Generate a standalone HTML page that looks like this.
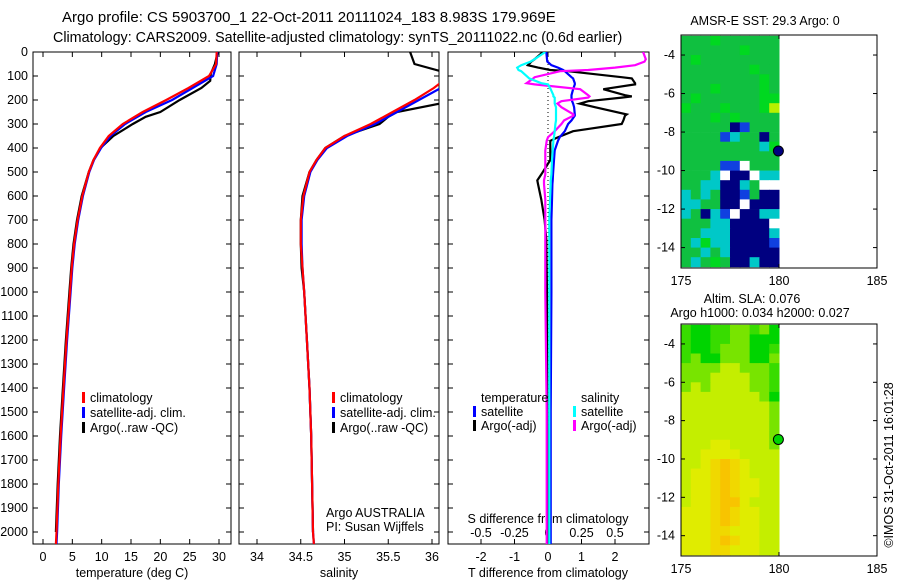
<!DOCTYPE html>
<html><head><meta charset="utf-8">
<style>
body{margin:0;background:#fff;}
svg{display:block;font-family:"Liberation Sans",sans-serif;}
text{font-size:12.5px;fill:#000;}
</style></head>
<body>
<svg id="fig" width="900" height="580" viewBox="0 0 900 580" xmlns="http://www.w3.org/2000/svg">
<text x="62" y="22" style="font-size:15px">Argo profile: CS 5903700_1 22-Oct-2011 20111024_183 8.983S 179.969E</text>
<text x="53" y="42" style="font-size:14.3px">Climatology: CARS2009. Satellite-adjusted climatology: synTS_20111022.nc (0.6d earlier)</text>
<text x="765" y="25" text-anchor="middle">AMSR-E SST: 29.3 Argo: 0</text>
<text x="752" y="303" text-anchor="middle">Altim. SLA: 0.076</text>
<text x="760" y="317" text-anchor="middle">Argo h1000: 0.034 h2000: 0.027</text>
<text transform="translate(893,465) rotate(-90)" text-anchor="middle">©IMOS 31-Oct-2011 16:01:28</text>
<g id="plots"></g>
</svg>
<script>
// ---- data ----
const depthTicks=[0,100,200,300,400,500,600,700,800,900,1000,1100,1200,1300,1400,1500,1600,1700,1800,1900,2000];
const tempTicks=[0,5,10,15,20,25,30];
const salTicks=[34,34.5,35,35.5,36];
const salTickLabels=["34","34.5","35","35.5","36"];
const tdTicks=[-2,-1,0,1,2];
const sdTicks=[-0.5,-0.25,0,0.25,0.5];
const sdTickLabels=["-0.5","-0.25","0","0.25","0.5"];
const lonTicks=[175,180,185];
const latTicks=[-4,-6,-8,-10,-12,-14];

const profDepth=[0,50,100,150,200,250,300,350,400,450,500,600,700,800,900,1000,1200,1400,1600,1800,2000,2050];
const tempClim=[29.6,29.5,28.3,24.8,21,17,13.6,11.2,9.7,8.6,7.8,6.7,5.9,5.3,4.9,4.6,4.0,3.5,3.0,2.6,2.3,2.2];
const tempSat=[29.7,29.6,29,25.5,22,17.5,14,11.5,9.9,8.7,7.9,6.8,6.0,5.4,5.0,4.7,4.1,3.6,3.1,2.7,2.4,2.3];
const argoDepth=[0,50,90,120,150,200,250,270,300,350,400,450,500,600,700,800,900,1000,1200,1400,1600,1800,2000];
const tempArgo=[29.8,29.3,28.6,28.5,27,23.3,20,17.5,15.3,12,9.8,8.6,7.8,6.6,5.8,5.2,4.8,4.5,3.9,3.4,2.9,2.5,2.2];
const salClim=[36.3,36.3,36.2,36.02,35.8,35.55,35.3,35.0,34.78,34.68,34.6,34.53,34.5,34.5,34.52,34.54,34.57,34.6,34.62,34.63,34.64,34.65];
const salSat=[36.3,36.3,36.3,36.1,35.85,35.6,35.35,35.03,34.8,34.69,34.61,34.54,34.51,34.51,34.52,34.54,34.57,34.6,34.62,34.63,34.64,34.65];
const salArgo=[35.75,35.8,36.2,36.3,36.3,36.3,35.6,35.5,35.4,35.0,34.78,34.68,34.6,34.52,34.5,34.5,34.51,34.54,34.57,34.6,34.62,34.63,34.64];

const diffDepth=[0,30,40,55,65,75,80,105,110,130,135,155,180,185,190,205,215,230,260,265,285,300,330,355,370,410,450,510,535,550,615,700,780,1000,1500,2050];
const tdArgo=[-0.15,-0.4,-0.5,-0.6,-0.3,0.07,0.6,2.2,2.5,2.6,2.6,1.65,2.3,2.5,2.2,1.2,0.95,1.4,2.35,2.3,2.25,2.2,0.75,0.3,0.07,0.07,0.07,-0.2,-0.32,-0.3,-0.2,-0.1,-0.05,-0.03,-0.02,0];
const tdSat=[-0.05,-0.03,-0.02,0.1,0.3,0.45,0.5,0.7,0.75,0.8,0.8,0.75,0.7,0.7,0.7,0.72,0.75,0.78,0.8,0.8,0.7,0.6,0.5,0.35,0.3,0.2,0.18,0.15,0.14,0.13,0.12,0.1,0.1,0.1,0.08,0.08];
const sdSat=[-0.02,-0.1,-0.13,-0.2,-0.23,-0.22,-0.2,-0.15,-0.14,-0.05,0,0.02,0.04,0.04,0.05,0.05,0.05,0.06,0.06,0.06,0.06,0.055,0.05,0.045,0.04,0.035,0.03,0.025,0.02,0.02,0.015,0.01,0.01,0.01,0.01,0.01];
const sdArgo=[0.71,0.73,0.72,0.65,0.5,0.3,0.09,-0.1,-0.11,-0.16,-0.1,0.24,0.3,0.31,0.3,0.1,0.07,0.1,0.19,0.19,0.12,0.1,0.05,0,-0.01,-0.02,-0.02,-0.02,-0.03,-0.03,-0.02,-0.02,-0.02,-0.02,-0.01,-0.01];

// map cells (0.5 deg, lon 175..180, lat -3..-15)
const sstRows=["gggGgggggg","ggggggGggg","gGgggggggg","gggggggGgg","ggggggggGg","gggGggggGg","gGggggggGG","GgggGgggGY","gggGgGgggg","gggggnbggg","ggggbcggng","ggggggggcG","gggggggggg","ggggbbwggg","gggcwnnwcc","ggccnncgww","cgcgnnbgnn","ccggnnwnnn","cgncbwnncc","gggccnnnnw","ggcccnnnnc","gcGccnnnnb","ggcgcnnnnn","gcgGgnncnn"];
const slaRows=["eddeelleld","eddeellddd","eddellldde","elddlllddl","llllyyllle","lllyyyylle","lylyyyylle","yyyyyyyyld","yyyyyyyyyl","yyyyyyyyyl","yyyyyyyyyl","yyyyyyyyyl","yyyYYyyyyl","yyYYYYyyyy","yyYoOoYyyy","yYYoOoYyyy","yYYoOoYYyy","yYYoOoYYyy","yYYoOOYyyy","YYYoOoYYyy","YYYoOoYYyy","YYYooYYYyy","YYYoOoYYyy","YYYooYYYyy"];
const sstColors={g:"#10c040",G:"#00d820",Y:"#b8f000",c:"#00c8c8",n:"#000080",b:"#1040e0",w:"#ffffff"};
const slaColors={d:"#00d400",e:"#38dc00",l:"#78e400",y:"#c4ee00",Y:"#e0ec00",o:"#f0d800",O:"#f8c400"};

// ---- drawing ----
const NS="http://www.w3.org/2000/svg";
const root=document.getElementById('plots');
function mk(tag,attrs,parent){const e=document.createElementNS(NS,tag);for(const k in attrs)e.setAttribute(k,attrs[k]);(parent||root).appendChild(e);return e;}
const Y0=52,YS=0.24;
function yD(d){return Y0+d*YS;}
const xT=v=>43+v*5.867;
const xS=v=>257+(v-34)*87.5;
const xTd=v=>548+v*33.5;
const xSd=v=>548+v*134;

function clipRect(id,x,y,w,h){const cp=mk('clipPath',{id:id});mk('rect',{x:x,y:y,width:w,height:h},cp);}
function line(xs,ds,fx,color,clip,name){
  const pts=xs.map((v,i)=>fx(v).toFixed(1)+','+yD(ds[i]).toFixed(1)).join(' ');
  const p=mk('polyline',{points:pts,fill:'none',stroke:color,'stroke-width':2.2,'clip-path':'url(#'+clip+')'});
  
  
}
function box(x1,y1,x2,y2,name){
  const r=mk('rect',{x:x1,y:y1,width:x2-x1,height:y2-y1,fill:'none',stroke:'#000','stroke-width':1});
  
  
}
function depthTickMarks(x1,x2,labels){
  depthTicks.forEach(d=>{const y=yD(d);
    mk('line',{x1:x1,y1:y,x2:x1+5,y2:y,stroke:'#000'});
    mk('line',{x1:x2,y1:y,x2:x2-5,y2:y,stroke:'#000'});
    if(labels){const t=mk('text',{x:x1-5,y:y+4,'text-anchor':'end'});t.textContent=d;
      
      }
  });
}
function xTicks(vals,labs,fx,yb,yt,ly,name){
  vals.forEach((v,i)=>{const x=fx(v);
    mk('line',{x1:x,y1:yb,x2:x,y2:yb-5,stroke:'#000'});
    if(yt!==null)mk('line',{x1:x,y1:yt,x2:x,y2:yt+5,stroke:'#000'});
    const t=mk('text',{x:x,y:ly,'text-anchor':'middle'});t.textContent=labs[i];
    
    
  });
}
function label(x,y,s,name,anchor){const t=mk('text',{x:x,y:y,'text-anchor':anchor||'start'});t.textContent=s;
  
  }
function legMark(x,y,color){mk('rect',{x:x,y:y-10,width:3,height:11,fill:color});}

const B=544;
// panel 1 temperature
clipRect('c1',33,52,198,492);
box(33,52,231,B,'temperature-axes');
depthTickMarks(33,231,true);
xTicks(tempTicks,tempTicks.map(String),xT,B,52,561,'temperature-tick-label');
label(132,577,'temperature (deg C)','temperature-axis-title','middle');
line(tempArgo,argoDepth,xT,'#000','c1','temp-argo-line');
line(tempSat,profDepth,xT,'#0000ff','c1','temp-satellite-line');
line(tempClim,profDepth,xT,'#ff0000','c1','temp-climatology-line');
legMark(82,402,'#ff0000');label(90,402,'climatology','legend-climatology');
legMark(82,417,'#0000ff');label(90,417,'satellite-adj. clim.','legend-satellite');
legMark(82,432,'#000');label(90,432,'Argo(..raw -QC)','legend-argo');

// panel 2 salinity
clipRect('c2',239,52,200,492);
box(239,52,439,B,'salinity-axes');
depthTickMarks(239,439,false);
xTicks(salTicks,salTickLabels,xS,B,52,561,'salinity-tick-label');
label(339,577,'salinity','salinity-axis-title','middle');
line(salArgo,argoDepth,xS,'#000','c2','sal-argo-line');
line(salSat,profDepth,xS,'#0000ff','c2','sal-satellite-line');
line(salClim,profDepth,xS,'#ff0000','c2','sal-climatology-line');
legMark(332,402,'#ff0000');label(340,402,'climatology','legend2-climatology');
legMark(332,417,'#0000ff');label(340,417,'satellite-adj. clim.','legend2-satellite');
legMark(332,432,'#000');label(340,432,'Argo(..raw -QC)','legend2-argo');
label(326,517,'Argo AUSTRALIA','argo-country-note');
label(326,531,'PI: Susan Wijffels','pi-note');

// panel 3 differences
clipRect('c3',448,52,201,492);
box(448,52,649,B,'difference-axes');
depthTickMarks(448,649,false);
mk('line',{x1:548,y1:52,x2:548,y2:B,stroke:'#000','stroke-dasharray':'1,3'});
xTicks(tdTicks,tdTicks.map(String),xTd,B,52,561,'t-diff-tick-label');
sdTicks.forEach((v,i)=>{const t=mk('text',{x:xSd(v),y:537,'text-anchor':'middle'});t.textContent=sdTickLabels[i];
  
  });
label(548,523,'S difference from climatology','s-diff-axis-title','middle');
label(548,577,'T difference from climatology','t-diff-axis-title','middle');
line(tdArgo,diffDepth,xTd,'#000','c3','tdiff-argo-line');
line(tdSat,diffDepth,xTd,'#0000ff','c3','tdiff-satellite-line');
line(sdArgo,diffDepth,xSd,'#ff00ff','c3','sdiff-argo-line');
line(sdSat,diffDepth,xSd,'#00ffff','c3','sdiff-satellite-line');
label(481,402,'temperature','legend3-temperature');
legMark(473,416,'#0000ff');label(481,416,'satellite','legend3-t-satellite');
legMark(473,430,'#000');label(481,430,'Argo(-adj)','legend3-t-argo');
label(581,402,'salinity','legend3-salinity');
legMark(573,416,'#00ffff');label(581,416,'satellite','legend3-s-satellite');
legMark(573,430,'#ff00ff');label(581,430,'Argo(-adj)','legend3-s-argo');

// maps
function drawMap(rows,colors,top,bot,latTop,name){
  const xL=v=>681+(v-175)*19.6;
  const ys=(bot-top)/12.1; // px per degree
  const yL=v=>top+(latTop-v)*ys;
  rows.forEach((row,r)=>{[...row].forEach((ch,c)=>{
    const lat=-3-r*0.5;
    const cell=mk('rect',{x:xL(175+c*0.5).toFixed(1),y:yL(lat).toFixed(1),width:10.3,height:(ys*0.5+0.4).toFixed(1),fill:colors[ch]});
    
    
  });});
  box(681,top,877,bot,name+'-axes');
  lonTicks.forEach(v=>{const x=xL(v);mk('line',{x1:x,y1:bot,x2:x,y2:bot-4,stroke:'#000'});mk('line',{x1:x,y1:top,x2:x,y2:top+4,stroke:'#000'});
    label(x,bot+17,String(v),name+'-lon-label','middle');});
  latTicks.forEach(v=>{const y=yL(v);mk('line',{x1:681,y1:y,x2:685,y2:y,stroke:'#000'});mk('line',{x1:877,y1:y,x2:873,y2:y,stroke:'#000'});
    label(675,y+4,String(v),name+'-lat-label','end');});
  const pt=mk('circle',{cx:xL(179.969),cy:yL(-8.983),r:5,fill:name==='sst-map'?'#000080':'#00d400',stroke:'#000','stroke-width':1});
  
  
}
drawMap(sstRows,sstColors,35,268,-2.96,'sst-map');
drawMap(slaRows,slaColors,324,556,-2.96,'sla-map');
</script>
</body></html>
